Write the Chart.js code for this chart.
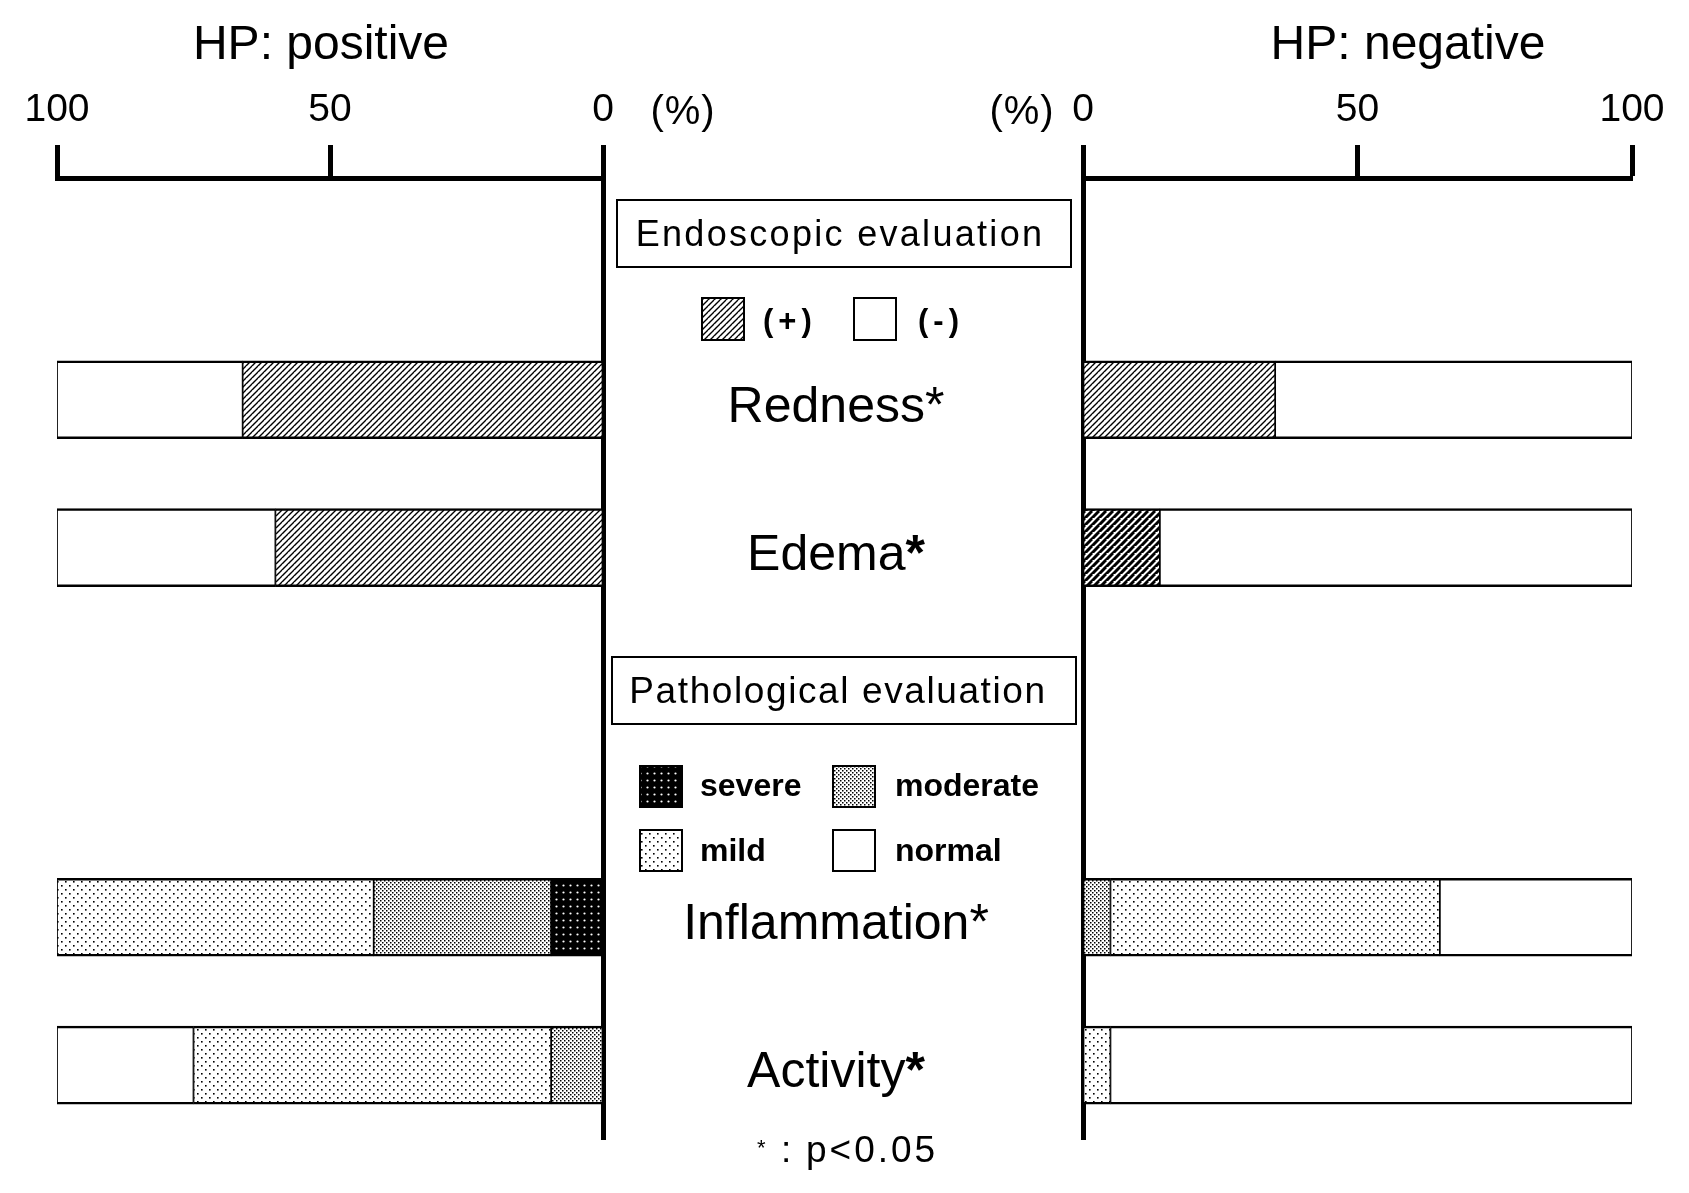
<!DOCTYPE html>
<html>
<head>
<meta charset="utf-8">
<title>HP positive / negative - endoscopic and pathological evaluation</title>
<script src="https://cdn.jsdelivr.net/npm/chart.js@4.4.1/dist/chart.umd.min.js"></script>
<style>
  html, body { margin: 0; padding: 0; background: #fff; }
  #wrap { position: relative; width: 1689px; height: 1193px; }
  #wrap canvas { position: absolute; left: 0; top: 0; }
</style>
</head>
<body>
<div id="wrap">
  <canvas id="leftChart" width="1689" height="1193"></canvas>
  <canvas id="rightChart" width="1689" height="1193"></canvas>
</div>
<script>
// ---- data (percent of patients) ----
const rows = ['Redness', 'Edema', 'Inflammation', 'Activity'];
const xTicks = [0, 50, 100];

// HP: positive
const posPlus     = [66, 60, null, null];
const posMinus    = [34, 40, null, null];
const posSevere   = [null, null, 9.5, null];
const posModerate = [null, null, 32.5, 9.5];
const posMild     = [null, null, 58, 65.5];
const posNormal   = [null, null, null, 25];

// HP: negative
const negPlus     = [35, 14, null, null];
const negMinus    = [65, 86, null, null];
const negSevere   = [null, null, null, null];
const negModerate = [null, null, 5, null];
const negMild     = [null, null, 60, 5];
const negNormal   = [null, null, 35, 95];

const FONT = '"Liberation Sans", Arial, Helvetica, sans-serif';
Chart.defaults.font.family = FONT;
Chart.defaults.color = '#000';

// ---- fill patterns ----
function makePattern(w, h, paint) {
    const c = document.createElement('canvas');
    c.width = w;
    c.height = h;
    const g = c.getContext('2d');
    paint(g, w, h);
    return g.createPattern(c, 'repeat');
}

function hatchPaint(lw) {
    return function(g, w, h) {
        g.fillStyle = '#fff';
        g.fillRect(0, 0, w, h);
        g.strokeStyle = '#000';
        g.lineWidth = lw;
        g.beginPath();
        g.moveTo(0, h); g.lineTo(w, 0);
        g.moveTo(-w, h); g.lineTo(0, 0);
        g.moveTo(w, h); g.lineTo(2 * w, 0);
        g.moveTo(-w, 2 * h); g.lineTo(w, 0);
        g.moveTo(0, 2 * h); g.lineTo(2 * w, 0);
        g.stroke();
    };
}

const hatch = makePattern(6, 6, hatchPaint(1.4));
const hatchDark = makePattern(7, 7, hatchPaint(3));

const mildFill = makePattern(8, 8, (g, w, h) => {
    g.fillStyle = '#fff';
    g.fillRect(0, 0, w, h);
    g.fillStyle = '#000';
    g.fillRect(1, 1, 1.6, 1.6);
    g.fillRect(5, 5, 1.6, 1.6);
});

const moderateFill = makePattern(4, 4, (g, w, h) => {
    g.fillStyle = '#fff';
    g.fillRect(0, 0, w, h);
    g.fillStyle = '#000';
    g.fillRect(0, 0, 1.5, 1.5);
    g.fillRect(2, 2, 1.5, 1.5);
});

const severeFill = makePattern(7, 7, (g, w, h) => {
    g.fillStyle = '#000';
    g.fillRect(0, 0, w, h);
    g.fillStyle = '#fff';
    g.beginPath();
    g.arc(3.5, 3.5, 1.1, 0, Math.PI * 2);
    g.fill();
});

// category slots: empty ones keep the vertical gaps between the rows
const slots = ['', '', '', rows[0], '', rows[1], '', '', '', '', rows[2], '', rows[3], ''];

function toPoints(values) {
    return rows.map((r, i) => ({ y: r, x: values[i] }));
}

function makeDataset(label, values, fill) {
    return {
        label: label,
        data: toPoints(values),
        backgroundColor: fill,
        borderColor: '#000',
        borderWidth: { top: 2.5, bottom: 2.5, left: 1.2, right: 1.2 },
        borderSkipped: false,
        barThickness: 78
    };
}

function makeOptions(reverse, padding) {
    return {
        indexAxis: 'y',
        responsive: false,
        animation: false,
        devicePixelRatio: 1,
        events: [],
        layout: { padding: padding },
        plugins: {
            legend: { display: false },
            tooltip: { enabled: false },
            title: { display: false }
        },
        scales: {
            x: {
                type: 'linear',
                position: 'top',
                reverse: reverse,
                min: 0,
                max: 100,
                stacked: true,
                afterBuildTicks: scale => {
                    scale.ticks = xTicks.map(v => ({ value: v }));
                },
                afterFit: scale => { scale.height = 178; },
                ticks: {
                    font: { size: 39 },
                    color: '#000',
                    padding: 11,
                    maxRotation: 0,
                    autoSkip: false
                },
                grid: {
                    drawOnChartArea: false,
                    drawTicks: true,
                    tickLength: 33,
                    tickWidth: 5,
                    tickColor: '#000',
                    color: '#000'
                },
                border: { display: true, color: '#000', width: 5 }
            },
            y: {
                type: 'category',
                labels: slots,
                position: reverse ? 'right' : 'left',
                offset: false,
                stacked: true,
                z: 1,
                afterFit: scale => { scale.width = 0; },
                ticks: { display: false },
                grid: { display: false, drawTicks: false },
                border: { display: true, color: '#000', width: 5 }
            }
        }
    };
}

// ---- middle panel: titles, boxes, legends, row names ----
function drawSwatch(ctx, fill, x, y, w, h) {
    ctx.fillStyle = fill;
    ctx.fillRect(x, y, w, h);
    ctx.lineWidth = 2;
    ctx.strokeStyle = '#000';
    ctx.strokeRect(x, y, w, h);
}

function setFont(ctx, size, bold, spacing) {
    ctx.font = (bold ? 'bold ' : '') + size + 'px ' + FONT;
    ctx.letterSpacing = (spacing || 0) + 'px';
}

const boldStar = new Set(['Edema', 'Activity']);

const centerPanel = {
    id: 'centerPanel',
    afterDraw(chart) {
        const ctx = chart.ctx;
        const yScale = chart.scales.y;
        const fills = {};
        chart.data.datasets.forEach(d => { fills[d.label] = d.backgroundColor; });

        ctx.save();
        ctx.fillStyle = '#000';
        ctx.textBaseline = 'alphabetic';

        // group titles
        setFont(ctx, 48, false, 0);
        ctx.textAlign = 'center';
        ctx.fillText('HP: positive', 321, 59);
        ctx.fillText('HP: negative', 1408, 59);

        // unit labels
        setFont(ctx, 40, false, 1);
        ctx.fillText('(%)', 683, 124);
        ctx.fillText('(%)', 1022, 124);

        // endoscopic box + legend
        ctx.lineWidth = 2;
        ctx.strokeStyle = '#000';
        ctx.strokeRect(617, 200, 454, 67);
        setFont(ctx, 36, false, 2.3);
        ctx.fillText('Endoscopic evaluation', 840, 246);

        drawSwatch(ctx, fills['(+)'], 702, 298, 42, 42);
        drawSwatch(ctx, '#fff', 854, 298, 42, 42);
        ctx.fillStyle = '#000';
        ctx.textAlign = 'left';
        setFont(ctx, 31, true, 5);
        ctx.fillText('(+)', 763, 331);
        ctx.fillText('(-)', 918, 331);

        // pathological box + legend
        ctx.strokeRect(612, 657, 464, 67);
        ctx.textAlign = 'center';
        setFont(ctx, 37, false, 1.6);
        ctx.fillText('Pathological evaluation', 838, 703);

        drawSwatch(ctx, fills['severe'], 640, 766, 42, 41);
        drawSwatch(ctx, fills['moderate'], 833, 766, 42, 41);
        drawSwatch(ctx, fills['mild'], 640, 830, 42, 41);
        drawSwatch(ctx, '#fff', 833, 830, 42, 41);
        ctx.fillStyle = '#000';
        ctx.textAlign = 'left';
        setFont(ctx, 32, true, 0);
        ctx.fillText('severe', 700, 796);
        ctx.fillText('moderate', 895, 796);
        ctx.fillText('mild', 700, 861);
        ctx.fillText('normal', 895, 861);

        // row names, aligned with the bar rows
        const labels = yScale.getLabels();
        rows.forEach(row => {
            const yc = yScale.getPixelForValue(labels.indexOf(row));
            setFont(ctx, 50, false, 0);
            const wName = ctx.measureText(row).width;
            setFont(ctx, 50, boldStar.has(row), 0);
            const wStar = ctx.measureText('*').width;
            const x0 = 836 - (wName + wStar) / 2;
            setFont(ctx, 50, false, 0);
            ctx.fillText(row, x0, yc + 22);
            setFont(ctx, 50, boldStar.has(row), 0);
            ctx.fillText('*', x0 + wName, yc + 22);
        });

        // footnote
        setFont(ctx, 22, false, 0);
        ctx.fillText('*', 757, 1155);
        setFont(ctx, 37, false, 0);
        ctx.fillText(':', 781, 1162);
        setFont(ctx, 37, false, 3);
        ctx.fillText('p<0.05', 806, 1162);

        ctx.restore();
    }
};

// ---- charts ----
new Chart(document.getElementById('leftChart'), {
    type: 'bar',
    data: {
        datasets: [
            makeDataset('(+)', posPlus, hatch),
            makeDataset('(-)', posMinus, '#fff'),
            makeDataset('severe', posSevere, severeFill),
            makeDataset('moderate', posModerate, moderateFill),
            makeDataset('mild', posMild, mildFill),
            makeDataset('normal', posNormal, '#fff')
        ]
    },
    options: makeOptions(true, { left: 57, right: 1086, top: 0, bottom: 54 }),
    plugins: [centerPanel]
});

new Chart(document.getElementById('rightChart'), {
    type: 'bar',
    data: {
        datasets: [
            makeDataset('(+)', negPlus, [hatch, hatchDark, hatch, hatch]),
            makeDataset('(-)', negMinus, '#fff'),
            makeDataset('severe', negSevere, severeFill),
            makeDataset('moderate', negModerate, moderateFill),
            makeDataset('mild', negMild, mildFill),
            makeDataset('normal', negNormal, '#fff')
        ]
    },
    options: makeOptions(false, { left: 1083, right: 57, top: 0, bottom: 54 })
});
</script>
</body>
</html>
